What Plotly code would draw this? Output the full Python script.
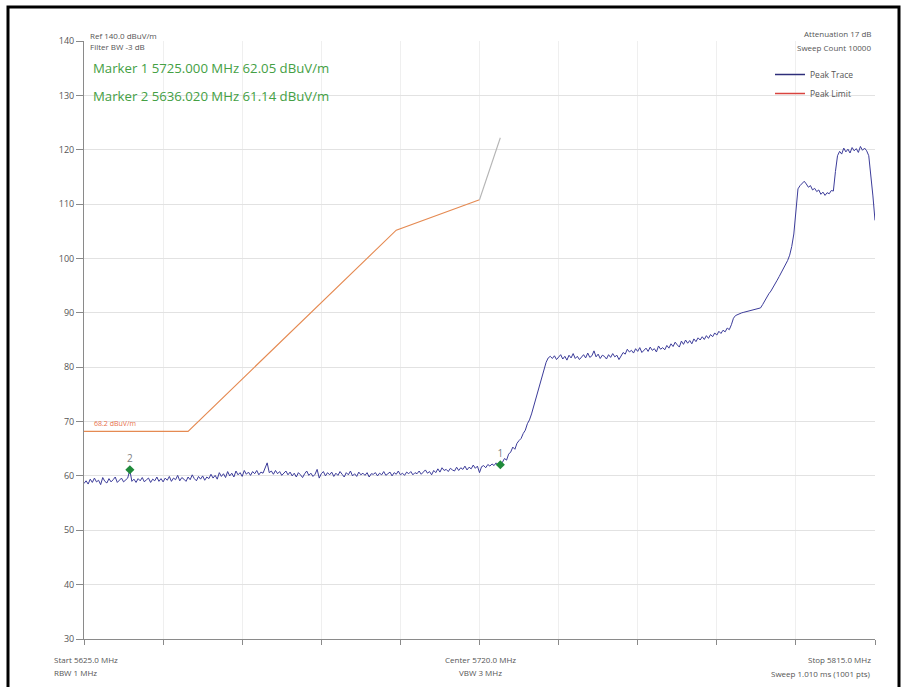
import numpy as np
import plotly.graph_objects as go

# ---------------- data ----------------
F_START, F_STOP, N_PTS = 5625.0, 5815.0, 381   # sweep grid (0.5 MHz)

peak_trace = [
    # 5625.0 - 5634.5
    58.6, 59.1, 58.5, 59.4, 58.8, 59.6, 58.9, 59.2, 58.4, 59.7, 59.0, 58.7, 59.5, 58.9, 59.3, 59.8, 58.8, 59.2, 59.6, 58.9,
    # 5635.0 - 5644.5
    59.3, 59.6, 61.1, 59.0, 59.4, 58.8, 59.5, 59.1, 59.7, 58.9, 59.3, 59.6, 58.8, 59.4, 59.1, 59.8, 59.0, 59.5, 58.9, 59.6,
    # 5645.0 - 5654.5
    59.2, 59.9, 59.0, 59.6, 59.3, 60.1, 59.1, 59.7, 59.4, 59.0, 59.8, 59.3, 60.2, 59.5, 59.1, 59.9, 59.4, 60.0, 59.2, 59.8,
    # 5655.0 - 5664.5
    59.5, 60.3, 59.6, 60.1, 59.4, 60.6, 59.9, 60.4, 59.7, 60.8, 60.0, 60.5, 59.8, 60.9, 60.2, 60.6, 59.9, 61.0, 60.3, 60.7,
    # 5665.0 - 5674.5
    60.1, 60.8, 60.4, 61.0, 60.2, 60.7, 60.5, 61.3, 62.4, 60.6, 60.9, 60.3, 61.0, 60.4, 60.8, 60.1, 60.6, 60.9, 60.2, 60.7,
    # 5675.0 - 5684.5
    60.0, 60.5, 59.8, 60.6, 60.2, 59.7, 60.4, 60.9, 60.1, 60.5, 59.9, 60.3, 61.2, 59.6, 60.4, 60.8, 60.0, 60.6, 60.2, 60.7,
    # 5685.0 - 5694.5
    59.9, 60.5, 60.1, 60.8, 60.3, 59.8, 60.6, 60.2, 60.9, 60.0, 60.4, 59.9, 60.7, 60.2, 60.5, 60.1, 60.6, 59.8, 60.4, 60.3,
    # 5695.0 - 5704.5
    60.6, 60.0, 60.5, 60.2, 60.8, 60.1, 60.4, 60.7, 60.0, 60.6, 60.3, 60.9, 60.2, 60.5, 60.1, 60.7, 60.4, 60.8, 60.2, 60.6,
    # 5705.0 - 5714.5
    60.4, 60.9, 60.3, 60.7, 61.1, 60.5, 60.8, 60.2, 61.0, 60.6, 61.3, 60.7, 61.5, 61.0, 61.2, 60.8, 61.4, 61.1, 60.9, 61.6,
    # 5715.0 - 5724.5
    61.0, 61.5, 61.2, 61.8, 61.1, 61.6, 61.3, 62.0, 61.4, 61.8, 60.6, 61.7, 61.9, 61.5, 62.1, 61.8, 62.2, 61.9, 62.4, 62.0,
    # 5725.0 - 5734.5
    62.05, 62.5, 63.2, 62.9, 64.0, 64.4, 65.3, 64.9, 66.0, 66.5, 66.9, 67.8, 68.4, 69.6, 70.3, 71.4, 72.8, 74.0, 75.6, 77.0,
    # 5735.0 - 5744.5
    78.5, 79.8, 80.9, 81.7, 82.0, 81.6, 82.1, 81.4, 81.9, 82.3, 81.5, 82.0, 81.3, 82.2, 81.7, 82.5, 81.6, 82.0, 81.4, 81.9,
    # 5745.0 - 5754.5
    82.3, 81.7, 82.6, 81.8, 82.1, 83.0, 81.9, 82.4, 81.6, 82.2, 82.0, 81.5, 82.3, 81.8, 82.5, 81.9, 82.2, 81.4, 82.1, 82.7,
    # 5755.0 - 5764.5
    82.4, 83.3, 82.8, 83.1, 82.6, 83.4, 82.9, 83.6, 82.7, 83.2, 83.5, 82.9, 83.7, 83.1, 83.4, 82.8, 83.9, 83.3, 83.6, 83.2,
    # 5765.0 - 5774.5
    84.0, 83.5, 84.3, 83.8, 84.6, 84.1, 83.7, 84.8, 84.2, 85.0, 84.4, 84.9, 84.3, 85.2, 84.7, 85.4, 85.0, 85.6, 85.1, 85.8,
    # 5775.0 - 5784.5
    85.3, 86.0, 85.6, 86.3, 85.9, 86.6, 86.2, 86.8, 86.5, 87.2, 86.9, 87.8, 89.0, 89.5, 89.7, 89.9, 90.0, 90.1, 90.2, 90.3,
    # 5785.0 - 5794.5
    90.4, 90.5, 90.5, 90.6, 90.7, 90.9, 91.5, 92.2, 92.9, 93.5, 94.0, 94.6, 95.3, 96.0, 96.7, 97.4, 98.1, 98.8, 99.6, 100.6,
    # 5795.0 - 5804.5
    102.2, 104.5, 109.5, 112.8, 113.4, 113.9, 114.2, 113.7, 113.1, 113.4, 112.6, 112.9, 112.3, 112.6, 111.8, 112.2, 111.6, 112.1, 111.9, 112.5,
    # 5805.0 - 5814.5
    112.4, 116.0, 118.9, 119.7, 119.2, 120.3, 119.6, 120.1, 119.4, 120.4, 119.8, 120.2, 119.5, 120.6, 119.9, 120.3, 119.8, 118.9, 115.5, 111.5,
    # 5815.0
    107.0,
]

limit_freq = [5625.0, 5650.0, 5700.0, 5720.0]
limit_level = [68.2, 68.2, 105.2, 110.8]
limit_ext_freq = [5720.0, 5725.0]
limit_ext_level = [110.8, 122.2]

marker_freq = [5725.000, 5636.020]
marker_level = [62.05, 61.14]
marker_names = ["1", "2"]

y_ticks = [30, 40, 50, 60, 70, 80, 90, 100, 110, 120, 130, 140]
x_grid = [5625, 5644, 5663, 5682, 5701, 5720, 5739, 5758, 5777, 5796, 5815]

freq = np.linspace(F_START, F_STOP, N_PTS)

# ---------------- figure ----------------
TRACE_C = "#3c3c9a"
LIMIT_C = "#e58a52"
GREEN = "#44a044"
FONT = "Open Sans"

fig = go.Figure()

fig.add_trace(go.Scatter(x=limit_freq, y=limit_level, mode="lines",
                         line=dict(color=LIMIT_C, width=1.1), showlegend=False, hoverinfo="skip"))
fig.add_trace(go.Scatter(x=limit_ext_freq, y=limit_ext_level, mode="lines",
                         line=dict(color="#b4b4b4", width=1.1), showlegend=False, hoverinfo="skip"))
fig.add_trace(go.Scatter(x=freq, y=peak_trace, mode="lines",
                         line=dict(color=TRACE_C, width=1), showlegend=False))
fig.add_trace(go.Scatter(x=marker_freq, y=marker_level, mode="markers+text",
                         text=marker_names, textposition="top center",
                         textfont=dict(size=10, color="#808080", family=FONT),
                         marker=dict(symbol="diamond", size=7, color="#1f8a3a"),
                         showlegend=False))

# legend entries
fig.add_trace(go.Scatter(x=[None], y=[None], mode="lines", name="Peak Trace",
                         line=dict(color="#2e2e7a", width=1.5)))
fig.add_trace(go.Scatter(x=[None], y=[None], mode="lines", name="Peak Limit",
                         line=dict(color="#d9443f", width=1.5)))

L, R, T, B = 84, 31, 41, 48
W, H = 906, 687
pw, ph = W - L - R, H - T - B


def px(x):
    return (x - L) / pw


def py(y):
    return (H - B - y) / ph


small = dict(size=8, color="#555555", family=FONT)
ann = [
    dict(text="Ref 140.0 dBuV/m", x=px(88), y=py(35), xanchor="left", yanchor="middle", font=small),
    dict(text="Filter BW -3 dB", x=px(88), y=py(46), xanchor="left", yanchor="middle", font=small),
    dict(text="Marker 1 5725.000 MHz 62.05 dBuV/m", x=px(91), y=py(68), xanchor="left", yanchor="middle",
         font=dict(size=13.2, color=GREEN, family=FONT)),
    dict(text="Marker 2 5636.020 MHz 61.14 dBuV/m", x=px(91), y=py(96), xanchor="left", yanchor="middle",
         font=dict(size=13.2, color=GREEN, family=FONT)),
    dict(text="Attenuation 17 dB", x=px(873), y=py(34), xanchor="right", yanchor="middle", font=small),
    dict(text="Sweep Count 10000", x=px(873), y=py(48), xanchor="right", yanchor="middle", font=small),
    dict(text="Start 5625.0 MHz", x=px(52), y=py(659), xanchor="left", yanchor="middle", font=small),
    dict(text="RBW 1 MHz", x=px(52), y=py(672), xanchor="left", yanchor="middle", font=small),
    dict(text="Center 5720.0 MHz", x=px(480), y=py(659), xanchor="center", yanchor="middle", font=small),
    dict(text="VBW 3 MHz", x=px(480), y=py(672), xanchor="center", yanchor="middle", font=small),
    dict(text="Stop 5815.0 MHz", x=px(873), y=py(659), xanchor="right", yanchor="middle", font=small),
    dict(text="Sweep 1.010 ms (1001 pts)", x=px(873), y=py(673), xanchor="right", yanchor="middle", font=small),
]
for a in ann:
    a.update(xref="paper", yref="paper", showarrow=False)
ann.append(dict(text="68.2 dBuV/m", x=limit_freq[0] + 2.0, y=limit_level[0] + 1.4, xref="x", yref="y",
                xanchor="left", yanchor="middle", showarrow=False,
                font=dict(size=7, color="#e8704a", family=FONT)))

fig.update_layout(
    width=W, height=H,
    margin=dict(l=L, r=R, t=T, b=B),
    paper_bgcolor="white", plot_bgcolor="white",
    font=dict(family=FONT),
    annotations=ann,
    legend=dict(x=px(770), xanchor="left", y=py(60), yanchor="top",
                font=dict(size=8.5, color="#555555", family=FONT),
                bgcolor="rgba(0,0,0,0)", itemwidth=30, tracegroupgap=0),
    shapes=[dict(type="rect", xref="paper", yref="paper",
                 x0=px(8), x1=px(899), y0=py(705), y1=py(7),
                 line=dict(color="black", width=3), fillcolor="rgba(0,0,0,0)", layer="above")],
    xaxis=dict(range=[F_START, F_STOP], tickvals=x_grid, showticklabels=False,
               showgrid=True, gridcolor="#efefef", gridwidth=1,
               showline=True, linecolor="#8a8a8a", linewidth=1,
               ticks="outside", ticklen=5, tickcolor="#8a8a8a", zeroline=False),
    yaxis=dict(range=[30, 140], tickvals=y_ticks,
               showgrid=True, gridcolor="#e2e2e2", gridwidth=1,
               showline=True, linecolor="#8a8a8a", linewidth=1,
               ticks="outside", ticklen=7, tickcolor="#8a8a8a",
               tickfont=dict(size=9, color="#555555", family=FONT), zeroline=False),
)

fig.write_html("out.html")
